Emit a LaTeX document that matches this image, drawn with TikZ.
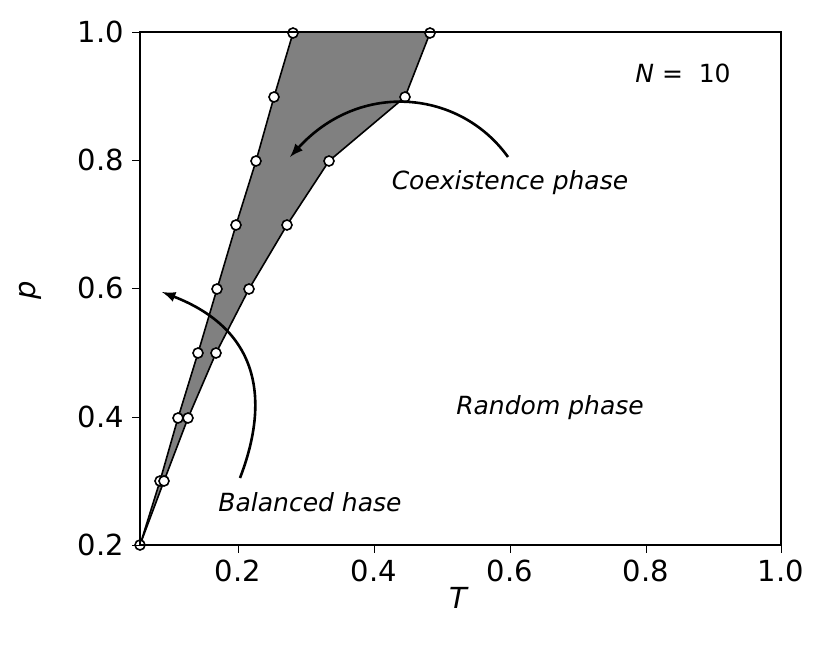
\documentclass[tikz,border=0pt]{standalone}
\usepackage{fontspec}
\setmainfont{DejaVu Sans}
\begin{document}
\begin{tikzpicture}[x=0.5pt,y=-0.5pt,
  pt/.style={circle,draw=black,fill=white,line width=0.8pt,inner sep=0pt,minimum size=5pt},
  tick/.style={font=\fontsize{14.5}{16}\selectfont},
  lab/.style={font=\fontsize{12.5}{14}\selectfont\itshape},
  arr/.style={-latex,line width=1.3pt}]
\useasboundingbox (0,0) rectangle (830,664);
\fill[gray] (140,545)--(160,481)--(178,418)--(198,353)--(217,289)--(236,225)--(256,161)--(274,97)--(293,33)--(430,33)--(405,97)--(329,161)--(287,225)--(249,289)--(216,353)--(188,418)--(164,481)--cycle;
\draw[line width=0.8pt] (140,545)--(160,481)--(178,418)--(198,353)--(217,289)--(236,225)--(256,161)--(274,97)--(293,33);
\draw[line width=0.8pt] (140,545)--(164,481)--(188,418)--(216,353)--(249,289)--(287,225)--(329,161)--(405,97)--(430,33);
\foreach \x/\y [count=\i] in {140/545,160/481,178/418,198/353,217/289,236/225,256/161,274/97,293/33,164/481,188/418,216/353,249/289,287/225,329/161,405/97,430/33}
  \node[pt] (m\i) at (\x,\y) {};
\draw[line width=0.8pt] (140,32) rectangle (781,545);
\foreach \x/\l in {238/0.2,374/0.4,510/0.6,646/0.8,781/1.0}{
  \draw (\x,545)--(\x,553);
  \node[tick,anchor=north] at (\x,553) {\l};}
\foreach \y/\l in {545/0.2,417/0.4,288/0.6,160/0.8,32/1.0}{
  \draw (140,\y)--(132,\y);
  \node[tick,anchor=east] at (131,\y) {\l};}
\node[font=\fontsize{14.5}{16}\selectfont\itshape] (tl) at (458,598) {T};
\node[font=\fontsize{14.5}{16}\selectfont\itshape,rotate=90] (pl) at (30,290) {p};
\node[font=\fontsize{12.5}{14}\selectfont] (n) at (683,73) {\textit{N} =\ \ 10};
\node[lab] (c) at (510,183) {Coexistence phase};
\node[lab] (r) at (550,408) {Random phase};
\node[lab] (b) at (310,502) {Balanced hase};
\coordinate (a1) at (508,157); \coordinate (a2) at (290,157);
\draw[arr] (a1) .. controls (460,90) and (360,80) .. (a2);
\coordinate (b1) at (240,478); \coordinate (b2) at (162,292);
\draw[arr] (b1) .. controls (270,400) and (260,330) .. (b2);
\end{tikzpicture}
\end{document}
